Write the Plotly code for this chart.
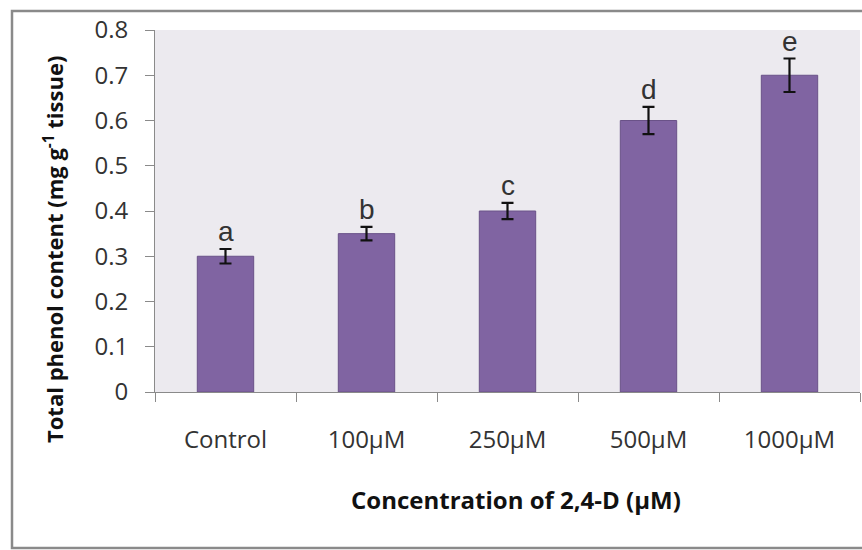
import plotly.graph_objects as go

categories = ["Control", "100µM", "250µM", "500µM", "1000µM"]
values = [0.30, 0.35, 0.40, 0.60, 0.70]
errors = [0.016, 0.015, 0.018, 0.030, 0.037]
letters = ["a", "b", "c", "d", "e"]
y_ticks = [0, 0.1, 0.2, 0.3, 0.4, 0.5, 0.6, 0.7, 0.8]
y_ticktext = ["0", "0.1", "0.2", "0.3", "0.4", "0.5", "0.6", "0.7", "0.8"]
x_title = "<b>Concentration of 2,4-D (µM)</b>"
y_title = "<b>Total phenol content (mg g<sup>-1</sup> tissue)</b>"

W, H = 862, 550
L, R, T, B = 155, 2, 30, 158
pw, ph = W - L - R, H - T - B


def px2x(p):
    return (p - L) / pw


def px2y(p):
    return (H - B - p) / ph


fig = go.Figure()
fig.add_trace(go.Bar(
    x=categories, y=values,
    marker=dict(color="#8064A2", line=dict(color="#6A5288", width=1)),
    error_y=dict(type="data", array=errors, visible=True, color="#111111", thickness=2.2, width=6),
    width=0.4,
))

for c, v, e, t in zip(categories, values, errors, letters):
    fig.add_annotation(x=c, y=v + e, text=t, showarrow=False, yanchor="bottom", yshift=0,
                       font=dict(family="Liberation Sans, Arial", size=28, color="#333333"))

# axis titles
fig.add_annotation(xref="paper", yref="paper", x=px2x(516), y=px2y(500), text=x_title,
                   showarrow=False, xanchor="center", yanchor="middle",
                   font=dict(family="Open Sans, sans-serif", size=24, color="#111111"))
fig.add_annotation(xref="paper", yref="paper", x=px2x(53), y=px2y(250), text=y_title,
                   showarrow=False, xanchor="center", yanchor="middle", textangle=-90,
                   font=dict(family="Open Sans, sans-serif", size=22, color="#111111"))

fig.add_shape(type="rect", xref="paper", yref="paper",
              x0=px2x(12), x1=px2x(875), y0=px2y(548), y1=px2y(11),
              line=dict(color="#8a8a8a", width=2.5), fillcolor="rgba(0,0,0,0)", layer="below")

fig.update_layout(
    width=W, height=H,
    margin=dict(l=L, r=R, t=T, b=B, pad=0),
    paper_bgcolor="white", plot_bgcolor="#ECEAEF",
    showlegend=False,
    font=dict(family="Open Sans, Lato, sans-serif", color="#404040"),
    xaxis=dict(
        tickfont=dict(size=24, color="#333333"),
        showline=True, linecolor="#8a8a8a", linewidth=1,
        ticks="outside", tickson="boundaries", ticklen=9, tickcolor="#8a8a8a",
        showgrid=False, ticklabelstandoff=26,
    ),
    yaxis=dict(
        range=[0, 0.8], tickvals=y_ticks, ticktext=y_ticktext,
        tickfont=dict(size=24, color="#333333"),
        showline=True, linecolor="#8a8a8a", linewidth=1,
        ticks="outside", ticklen=9, tickcolor="#8a8a8a",
        showgrid=False, zeroline=False, ticklabelstandoff=12,
    ),
)

fig.write_html("out.html")
